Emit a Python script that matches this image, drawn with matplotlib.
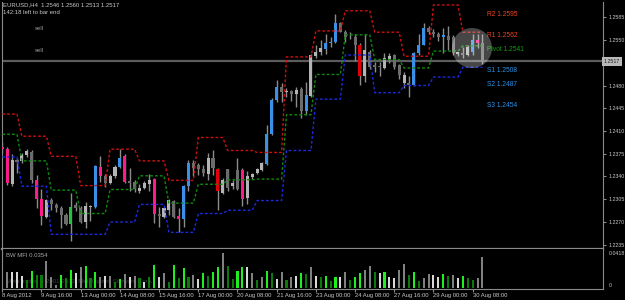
import numpy as np
import matplotlib.pyplot as plt
from matplotlib.patches import Circle

plt.rcParams['font.family'] = ['Liberation Sans Narrow', 'Liberation Sans', 'DejaVu Sans']

# EURUSD H4 bars, 8 Aug 2012 08:00 .. 30 Aug 2012 16:00
opens = [1.2386, 1.2383, 1.2329, 1.2365, 1.2364, 1.2373, 1.2378, 1.2335, 1.2305, 1.2278,
         1.2304, 1.2296, 1.2291, 1.2280, 1.2267, 1.2296, 1.2291, 1.2270, 1.2293, 1.2293,
         1.2355, 1.2341, 1.2330, 1.2340, 1.2355, 1.2371, 1.2333, 1.2332, 1.2318, 1.2322,
         1.2328, 1.2336, 1.2282, 1.2278, 1.2288, 1.2303, 1.2279, 1.2274, 1.2325, 1.2360,
         1.2357, 1.2352, 1.2344, 1.2368, 1.2351, 1.2314, 1.2351, 1.2325, 1.2350, 1.2350,
         1.2307, 1.2339, 1.2345, 1.2350, 1.2359, 1.2405, 1.2457, 1.2478, 1.2470, 1.2472,
         1.2467, 1.2475, 1.2441, 1.2464, 1.2525, 1.2531, 1.2536, 1.2545, 1.2547, 1.2576,
         1.2562, 1.2557, 1.2554, 1.2542, 1.2495, 1.2532, 1.2511, 1.2510, 1.2507, 1.2520,
         1.2527, 1.2511, 1.2496, 1.2484, 1.2481, 1.2530, 1.2543, 1.2569, 1.2563, 1.2559,
         1.2555, 1.2556, 1.2555, 1.2528, 1.2527, 1.2527, 1.2532, 1.2550, 1.2546]
highs = [1.2393, 1.2386, 1.2374, 1.2368, 1.2376, 1.2383, 1.2381, 1.2342, 1.2320, 1.2306,
         1.2307, 1.2299, 1.2295, 1.2284, 1.2315, 1.2301, 1.2294, 1.2301, 1.2296, 1.2357,
         1.2372, 1.2344, 1.2344, 1.2358, 1.2383, 1.2374, 1.2353, 1.2335, 1.2329, 1.2333,
         1.2344, 1.2337, 1.2293, 1.2293, 1.2305, 1.2304, 1.2291, 1.2327, 1.2365, 1.2365,
         1.2360, 1.2357, 1.2376, 1.2380, 1.2353, 1.2337, 1.2352, 1.2334, 1.2368, 1.2353,
         1.2348, 1.2346, 1.2353, 1.2362, 1.2419, 1.2460, 1.2489, 1.2484, 1.2476, 1.2473,
         1.2478, 1.2478, 1.2486, 1.2529, 1.2542, 1.2550, 1.2560, 1.2555, 1.2590, 1.2578,
         1.2565, 1.2562, 1.2559, 1.2545, 1.2560, 1.2535, 1.2516, 1.2516, 1.2530, 1.2530,
         1.2529, 1.2513, 1.2501, 1.2494, 1.2532, 1.2560, 1.2576, 1.2571, 1.2567, 1.2562,
         1.2569, 1.2571, 1.2558, 1.2532, 1.2540, 1.2542, 1.2560, 1.2560, 1.2560]
lows = [1.2376, 1.2327, 1.2325, 1.2345, 1.2360, 1.2370, 1.2330, 1.2291, 1.2265, 1.2276,
        1.2289, 1.2286, 1.2260, 1.2265, 1.2240, 1.2287, 1.2268, 1.2260, 1.2272, 1.2292,
        1.2332, 1.2324, 1.2328, 1.2337, 1.2353, 1.2330, 1.2317, 1.2316, 1.2315, 1.2320,
        1.2317, 1.2269, 1.2263, 1.2276, 1.2281, 1.2276, 1.2255, 1.2262, 1.2317, 1.2340,
        1.2343, 1.2340, 1.2335, 1.2342, 1.2288, 1.2313, 1.2318, 1.2320, 1.2319, 1.2294,
        1.2297, 1.2336, 1.2344, 1.2348, 1.2358, 1.2404, 1.2455, 1.2455, 1.2463, 1.2456,
        1.2447, 1.2430, 1.2435, 1.2462, 1.2522, 1.2527, 1.2528, 1.2540, 1.2545, 1.2562,
        1.2547, 1.2552, 1.2517, 1.2481, 1.2486, 1.2506, 1.2501, 1.2494, 1.2505, 1.2515,
        1.2505, 1.2490, 1.2476, 1.2463, 1.2480, 1.2527, 1.2542, 1.2560, 1.2555, 1.2549,
        1.2530, 1.2535, 1.2527, 1.2526, 1.2522, 1.2525, 1.2527, 1.2537, 1.2513]
closes = [1.2382, 1.2330, 1.2365, 1.2363, 1.2373, 1.2379, 1.2335, 1.2305, 1.2279, 1.2304,
          1.2297, 1.2291, 1.2281, 1.2267, 1.2293, 1.2291, 1.2270, 1.2294, 1.2295, 1.2356,
          1.2340, 1.2330, 1.2341, 1.2355, 1.2368, 1.2332, 1.2330, 1.2320, 1.2322, 1.2330,
          1.2334, 1.2282, 1.2279, 1.2291, 1.2304, 1.2277, 1.2274, 1.2325, 1.2360, 1.2353,
          1.2351, 1.2345, 1.2368, 1.2353, 1.2317, 1.2335, 1.2322, 1.2330, 1.2320, 1.2306,
          1.2341, 1.2344, 1.2351, 1.2361, 1.2405, 1.2457, 1.2477, 1.2470, 1.2472, 1.2467,
          1.2473, 1.2441, 1.2465, 1.2527, 1.2531, 1.2538, 1.2545, 1.2547, 1.2576, 1.2563,
          1.2555, 1.2557, 1.2542, 1.2494, 1.2534, 1.2509, 1.2509, 1.2508, 1.2522, 1.2525,
          1.2509, 1.2496, 1.2484, 1.2481, 1.2530, 1.2543, 1.2569, 1.2563, 1.2559, 1.2554,
          1.2557, 1.2550, 1.2530, 1.2531, 1.2530, 1.2540, 1.2550, 1.2545, 1.2517]
# candle colour class: L light, D dark, B blue, P pink, R red, G green
candle_kind = list("PPLDLLDPPL" "DDDDGDDLLB" "PDLLBPDDLL" "LPDLLDPBBD" "DDLDRLDLDP"
                   "LLLLBBBDLD" "LDBLLLBBBD" "DDDRLDDDLL" "DDLDBBBDDD" "BDDLDLBPD")

# BW MFI histogram
mfi = [0.0093, 0.0187, 0.0187, 0.0187, 0.0138, 0.0093, 0.0198, 0.0149, 0.0149, 0.0310,
       0.0131, 0.0037, 0.0149, 0.0112, 0.0205, 0.0175, 0.0235, 0.0250, 0.0112, 0.0187,
       0.0131, 0.0138, 0.0138, 0.0075, 0.0101, 0.0157, 0.0131, 0.0138, 0.0112, 0.0075,
       0.0131, 0.0261, 0.0131, 0.0168, 0.0075, 0.0261, 0.0112, 0.0224, 0.0131, 0.0149,
       0.0101, 0.0168, 0.0138, 0.0187, 0.0235, 0.0399, 0.0250, 0.0101, 0.0198, 0.0242,
       0.0235, 0.0168, 0.0093, 0.0131, 0.0198, 0.0175, 0.0101, 0.0187, 0.0093, 0.0131,
       0.0138, 0.0168, 0.0157, 0.0242, 0.0138, 0.0123, 0.0138, 0.0082, 0.0131, 0.0131,
       0.0179, 0.0093, 0.0123, 0.0175, 0.0205, 0.0254, 0.0179, 0.0168, 0.0179, 0.0123,
       0.0112, 0.0205, 0.0272, 0.0149, 0.0187, 0.0082, 0.0112, 0.0160, 0.0149, 0.0131,
       0.0160, 0.0138, 0.0145, 0.0112, 0.0138, 0.0112, 0.0093, 0.0112, 0.0354]
mfi_kind = list("dswwwdgdds" "ssgdgwsgdg" "swsdgswsdw" "dgwsdgdgds" "wgdggsddgg"
                "wsdsgdwsds" "wgdswdgdgw" "sdggssdwgw" "wssdgdssww" "gdswgddss")

# daily pivot levels (R1 / Pivot / S1) and bars per day
day_bars = [4, 6, 6, 6, 6, 6, 6, 6, 6, 6, 6, 6, 6, 6, 6, 6, 5]
r1_day = [1.2436, 1.2402, 1.2371, 1.2326, 1.2382, 1.2364, 1.2334, 1.2400, 1.2380,
          1.2377, 1.2524, 1.2564, 1.2595, 1.2562, 1.2525, 1.2604, 1.2562]
pp_day = [1.2405, 1.2364, 1.2319, 1.2283, 1.2320, 1.2341, 1.2299, 1.2328, 1.2335,
          1.2336, 1.2435, 1.2497, 1.2558, 1.2520, 1.2507, 1.2533, 1.2541]
s1_day = [1.2370, 1.2325, 1.2251, 1.2251, 1.2270, 1.2297, 1.2254, 1.2283, 1.2288,
          1.2303, 1.2380, 1.2459, 1.2527, 1.2469, 1.2480, 1.2493, 1.2508]

level_names = ['R2', 'R1', 'Pivot', 'S1', 'S2', 'S3']
level_values = [1.2595, 1.2562, 1.2541, 1.2508, 1.2487, 1.2454]
level_colors = ['#f0401c', '#f0401c', '#129a12', '#2a90e8', '#2a90e8', '#2a90e8']

time_pos = [0, 8, 16, 24, 32, 40, 48, 56, 64, 72, 80, 88, 96]
time_labels = ['8 Aug 2012', '9 Aug 16:00', '13 Aug 00:00', '14 Aug 08:00', '15 Aug 16:00',
               '17 Aug 00:00', '20 Aug 08:00', '21 Aug 16:00', '23 Aug 00:00', '24 Aug 08:00',
               '27 Aug 16:00', '29 Aug 00:00', '30 Aug 08:00']
price_ticks = [1.2585, 1.2550, 1.2480, 1.2445, 1.2410, 1.2375, 1.2340, 1.2305, 1.2270, 1.2235]
bid = 1.2517

body_col = {'L': '#b4b4b4', 'D': '#6c6c6c', 'B': '#3a8fe6', 'P': '#ff1a8c', 'R': '#e0000c', 'G': '#22c43a'}
mfi_col = {'g': '#1ef01e', 'd': '#0a7a0a', 'w': '#d8d8d8', 's': '#808080'}
frame = '#8a8a8a'
txt = '#c8c8c8'

W, H = 625, 300
fig = plt.figure(figsize=(W / 100, H / 100), dpi=100, facecolor='black')
ax = fig.add_axes([2 / W, 1 - 249 / H, 601 / W, 247 / H], facecolor='black')
ax2 = fig.add_axes([2 / W, 1 - 289 / H, 601 / W, 40 / H], facecolor='black')

x = np.arange(len(opens))
o = np.array(opens); c = np.array(closes)

# candles
ax.vlines(x, lows, highs, color='#8c8c8c', lw=1, zorder=2)
lo = np.minimum(o, c)
hgt = np.maximum(np.abs(c - o), 0.00014)
ax.bar(x, hgt, bottom=lo, width=0.62, color=[body_col[k] for k in candle_kind],
       linewidth=0, zorder=3)

# pivot lines
dots = (0, (2, 1.5))
ax.plot(x, np.repeat(r1_day, day_bars), color='#cc1010', lw=1, ls=dots, zorder=4)
ax.plot(x, np.repeat(pp_day, day_bars), color='#0e8a0e', lw=1, ls=dots, zorder=4)
ax.plot(x, np.repeat(s1_day, day_bars), color='#1a2ae0', lw=1, ls=dots, zorder=4)

for name, val, col in zip(level_names, level_values, level_colors):
    ax.text(98.9, val, f'{name} {val:.4f}', color=col, fontsize=4.8, va='top', ha='left')

# bid line
ax.axhline(bid, color='#5c5c5c', lw=1.6, zorder=1)

ax.set_xlim(-0.06, 122.6)
ax.set_ylim(1.22284, 1.26085)
ax.yaxis.tick_right()
ax.set_yticks(price_ticks)
ax.set_yticklabels([f'{v:.4f}' for v in price_ticks])
ax.tick_params(axis='y', direction='out', length=2.5, width=0.8, color=frame,
               labelcolor=txt, labelsize=3.8, pad=1.5)
ax.set_xticks([])
for s in ['left', 'right', 'bottom']:
    ax.spines[s].set_color(frame)
ax.spines['top'].set_visible(False)
ax.spines['bottom'].set_linewidth(1.6)
ax.text(1.0015, bid, f'{bid:.4f}', transform=ax.get_yaxis_transform(), fontsize=3.8,
        color='#202020', va='center', ha='left',
        bbox=dict(boxstyle='square,pad=0.3', facecolor='#b8b8b8', edgecolor='none'))

# MFI panel
ax2.bar(x, mfi, width=0.42, color=[mfi_col[k] for k in mfi_kind], linewidth=0, zorder=2)
ax2.set_xlim(-0.06, 122.6)
ax2.set_ylim(-0.0008, 0.044)
ax2.yaxis.tick_right()
ax2.set_yticks([0, 0.0418])
ax2.set_yticklabels(['0', '0.0418'])
ytl = ax2.get_yticklabels()
ytl[0].set_va('bottom'); ytl[1].set_va('top')
ax2.tick_params(axis='y', direction='out', length=0, labelcolor=txt, labelsize=3.8, pad=4)
ax2.set_xticks(time_pos)
ax2.set_xticklabels(time_labels)
for t in ax2.get_xticklabels():
    t.set_ha('left')
ax2.tick_params(axis='x', direction='out', length=2, width=0.8, color=frame,
                labelcolor=txt, labelsize=4.2, pad=1)
for s in ['left', 'right', 'bottom']:
    ax2.spines[s].set_color(frame)
ax2.spines['top'].set_visible(False)
ax2.text(0.006, 0.9, 'BW MFI 0.0354', transform=ax2.transAxes, color='#a8a8a8',
         fontsize=4.3, va='top')
ax2.text(0.006, 0.12, 'MetaTrader, \u00a9 2001-2012, MetaQuotes Software Corp.',
         transform=ax2.transAxes, color='#3c3c3c', fontsize=4.3, va='bottom', zorder=1)

# header and object labels
fig.text(3 / W, 1 - 2.5 / H, 'EURUSD,H4  1.2546 1.2560 1.2513 1.2517', color=txt,
         fontsize=4.3, va='top')
fig.text(3 / W, 1 - 10 / H, '142:18 left to bar end', color=txt, fontsize=4.3, va='top')
fig.text(35 / W, 1 - 29 / H, 'sell', color='#9a9a9a', fontsize=4.3, va='center')
fig.text(35 / W, 1 - 51 / H, 'sell', color='#9a9a9a', fontsize=4.3, va='center')

# highlight circle
fig.add_artist(Circle((4.72, (H - 48) / 100), 0.20, transform=fig.dpi_scale_trans,
                      facecolor='white', edgecolor='none', alpha=0.28, zorder=5))

fig.savefig('out.png', dpi=100, facecolor='black')
